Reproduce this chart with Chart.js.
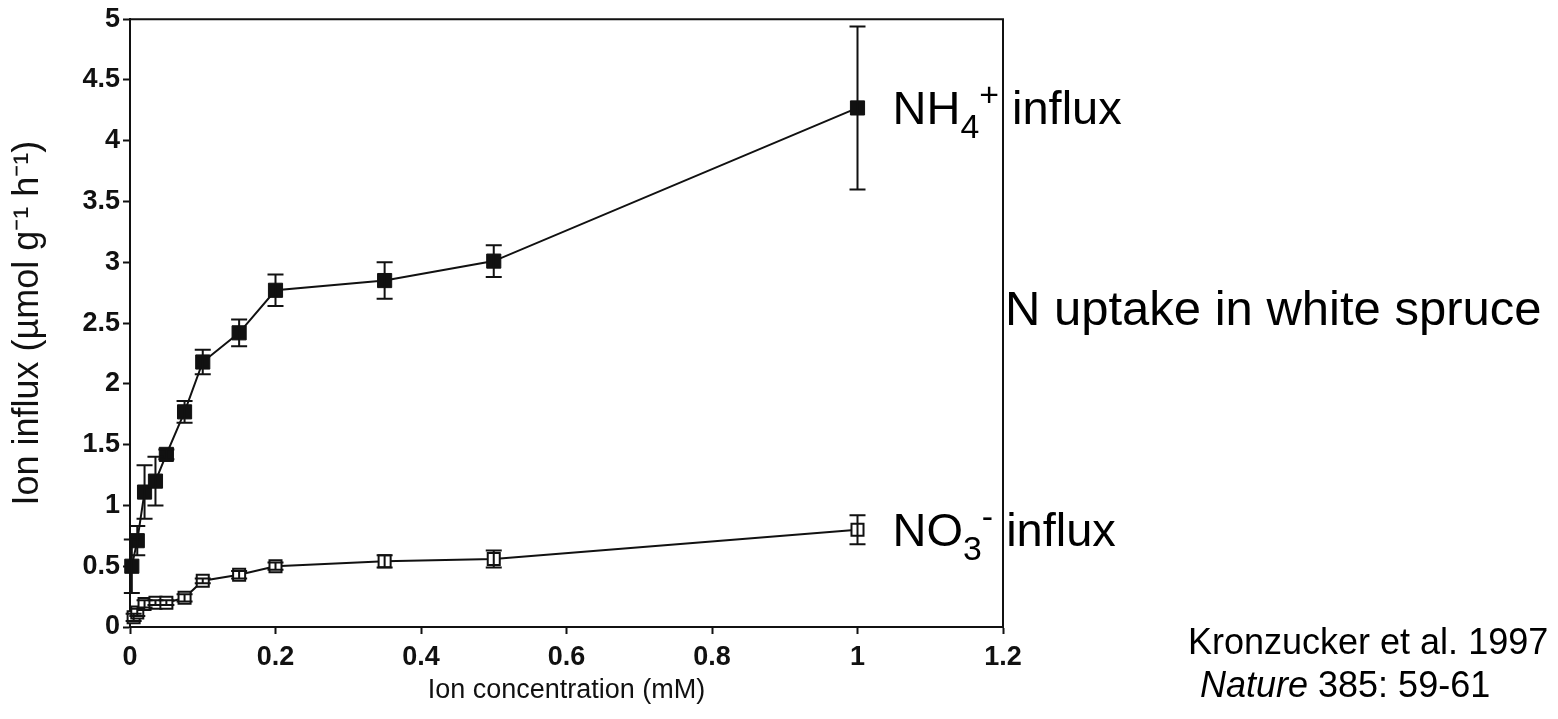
<!DOCTYPE html>
<html>
<head>
<meta charset="utf-8">
<script src="https://cdn.jsdelivr.net/npm/chart.js@4.4.1/dist/chart.umd.min.js"></script>
<style>
  html, body { margin: 0; padding: 0; background: #fff; }
  #wrap { width: 1558px; height: 719px; position: relative; }
</style>
</head>
<body>
<div id="wrap"><canvas id="influx"></canvas></div>
<script>
// Kronzucker et al. 1997: NH4+ and NO3- influx into white spruce roots
var nh4Conc = [0.0025, 0.01, 0.02, 0.035, 0.05, 0.075, 0.1, 0.15, 0.2, 0.35, 0.5, 1.0];
var nh4Flux = [0.50, 0.71, 1.11, 1.20, 1.42, 1.77, 2.18, 2.42, 2.77, 2.85, 3.01, 4.27];
var nh4Err  = [0.22, 0.12, 0.22, 0.20, 0.04, 0.09, 0.10, 0.11, 0.13, 0.15, 0.13, 0.67];

var no3Conc = [0.005, 0.01, 0.02, 0.035, 0.05, 0.075, 0.1, 0.15, 0.2, 0.35, 0.5, 1.0];
var no3Flux = [0.08, 0.12, 0.19, 0.20, 0.20, 0.24, 0.38, 0.43, 0.50, 0.54, 0.56, 0.80];
var no3Err  = [0.03, 0.03, 0.03, 0.02, 0.02, 0.03, 0.02, 0.03, 0.03, 0.05, 0.07, 0.12];

var ink = "#111";
var fontFamily = "'Liberation Sans', Arial, Helvetica, sans-serif";

function toPoints(xs, ys) {
  var pts = [];
  for (var i = 0; i < xs.length; i++) pts.push({ x: xs[i], y: ys[i] });
  return pts;
}

function trimNum(v) {
  return String(Math.round(v * 10) / 10);
}

// vertical error bars with caps, drawn over the markers
var errorBars = {
  id: "errorBars",
  afterDatasetsDraw: function (chart) {
    var ctx = chart.ctx;
    var xs = chart.scales.x, ys = chart.scales.y;
    var sets = [[nh4Conc, nh4Flux, nh4Err], [no3Conc, no3Flux, no3Err]];
    ctx.save();
    ctx.strokeStyle = ink;
    ctx.lineWidth = 2;
    sets.forEach(function (s) {
      for (var i = 0; i < s[0].length; i++) {
        var px = xs.getPixelForValue(s[0][i]);
        var top = ys.getPixelForValue(s[1][i] + s[2][i]);
        var bot = ys.getPixelForValue(s[1][i] - s[2][i]);
        var cap = 8;
        ctx.beginPath();
        ctx.moveTo(px, top); ctx.lineTo(px, bot);
        ctx.moveTo(px - cap, top); ctx.lineTo(px + cap, top);
        ctx.moveTo(px - cap, bot); ctx.lineTo(px + cap, bot);
        ctx.stroke();
      }
    });
    ctx.restore();
  }
};

// draws a run of [text, "sub" | "sup" | "it" | ""] pieces starting at x, baseline y
function richText(ctx, parts, x, y, size) {
  var cx = x;
  parts.forEach(function (p) {
    var sz = size, dy = 0;
    if (p[1] === "sub") { sz = size * 0.72; dy = size * 0.3; }
    if (p[1] === "sup") { sz = size * 0.72; dy = -size * 0.38; }
    var style = (p[1] === "it") ? "italic " : "";
    ctx.font = style + sz + "px " + fontFamily;
    ctx.fillText(p[0], cx, y + dy);
    cx += ctx.measureText(p[0]).width;
  });
}

var frameAndNotes = {
  id: "frameAndNotes",
  afterDraw: function (chart) {
    var ctx = chart.ctx, a = chart.chartArea;
    var xs = chart.scales.x, ys = chart.scales.y;
    ctx.save();
    // closing top and right sides of the plot box
    ctx.strokeStyle = ink;
    ctx.lineWidth = 2;
    ctx.beginPath();
    ctx.moveTo(a.left, a.top); ctx.lineTo(a.right, a.top); ctx.lineTo(a.right, a.bottom);
    ctx.stroke();

    ctx.fillStyle = "#000";
    ctx.textBaseline = "alphabetic";
    ctx.textAlign = "left";
    var lastNh4 = nh4Conc.length - 1, lastNo3 = no3Conc.length - 1;
    richText(ctx, [["NH", ""], ["4", "sub"], ["+", "sup"], [" influx", ""]],
      xs.getPixelForValue(nh4Conc[lastNh4]) + 35, ys.getPixelForValue(nh4Flux[lastNh4]) + 16, 47);
    richText(ctx, [["NO", ""], ["3", "sub"], ["-", "sup"], [" influx", ""]],
      xs.getPixelForValue(no3Conc[lastNo3]) + 35, ys.getPixelForValue(no3Flux[lastNo3]) + 16, 47);
    richText(ctx, [["N uptake in white spruce", ""]], a.right + 2, a.top + 306, 49);
    richText(ctx, [["Kronzucker et al. 1997", ""]], 1188, 654, 36);
    richText(ctx, [["Nature", "it"], [" 385: 59-61", ""]], 1200, 697, 36);
    ctx.restore();
  }
};

new Chart(document.getElementById("influx"), {
  type: "scatter",
  data: {
    datasets: [
      {
        label: "NH4+",
        data: toPoints(nh4Conc, nh4Flux),
        showLine: true,
        borderColor: ink,
        borderWidth: 2,
        pointStyle: "rect",
        pointRadius: 10,
        pointBackgroundColor: ink,
        pointBorderColor: ink,
        pointBorderWidth: 1,
        clip: false,
      },
      {
        label: "NO3-",
        data: toPoints(no3Conc, no3Flux),
        showLine: true,
        borderColor: ink,
        borderWidth: 2,
        pointStyle: "rect",
        pointRadius: 8.5,
        pointBackgroundColor: "#fff",
        pointBorderColor: ink,
        pointBorderWidth: 2,
        clip: false,
      },
    ],
  },
  options: {
    responsive: true,
    maintainAspectRatio: false,
    animation: false,
    layout: { padding: { top: 17, right: 555, left: 0, bottom: 0 } },
    plugins: { legend: { display: false }, tooltip: { enabled: false } },
    scales: {
      x: {
        type: "linear",
        min: 0,
        max: 1.2,
        afterFit: function (s) { s.height = 92; },
        border: { display: true, color: ink, width: 2 },
        grid: { drawOnChartArea: false, drawTicks: true, tickLength: 7, color: ink, tickWidth: 2 },
        ticks: {
          stepSize: 0.2,
          padding: 7,
          color: ink,
          font: { family: fontFamily, size: 27, weight: "bold" },
          callback: trimNum,
        },
        title: {
          display: true,
          text: "Ion concentration (mM)",
          color: ink,
          font: { family: fontFamily, size: 27 },
          padding: { top: 0, bottom: 12 },
        },
      },
      y: {
        type: "linear",
        min: 0,
        max: 5,
        afterFit: function (s) { s.width = 130; },
        border: { display: true, color: ink, width: 2 },
        grid: { drawOnChartArea: false, drawTicks: true, tickLength: 7, color: ink, tickWidth: 2 },
        ticks: {
          stepSize: 0.5,
          padding: 3,
          color: ink,
          font: { family: fontFamily, size: 27, weight: "bold" },
          callback: trimNum,
        },
        title: {
          display: true,
          text: "Ion influx (\u00b5mol g\u207b\u00b9 h\u207b\u00b9)",
          color: ink,
          font: { family: fontFamily, size: 36 },
          padding: { top: 6, bottom: 0 },
        },
      },
    },
  },
  plugins: [errorBars, frameAndNotes],
});
</script>
</body>
</html>
